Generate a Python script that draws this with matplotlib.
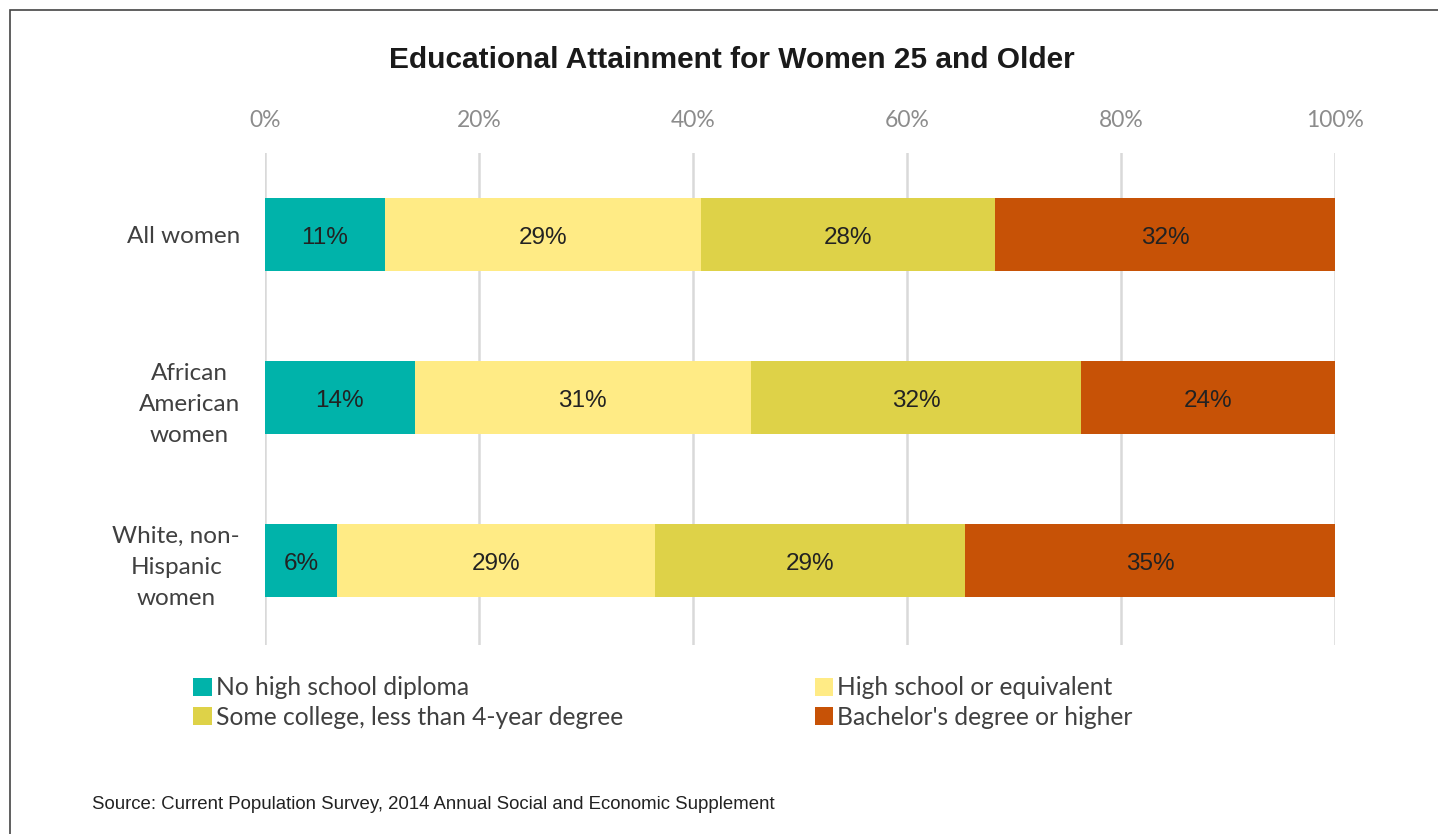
import numpy as np
import matplotlib.pyplot as plt
from matplotlib.patches import Patch, Rectangle

# groups, top to bottom
groups = ["All women", "African\nAmerican\nwomen", "White, non-\nHispanic\nwomen"]
categories = [
    "No high school diploma",
    "High school or equivalent",
    "Some college, less than 4-year degree",
    "Bachelor's degree or higher",
]
# segment widths (%)
no_diploma = [11.2, 14.0, 6.7]
high_school = [29.5, 31.4, 29.7]
some_college = [27.5, 30.9, 29.0]
bachelors = [31.8, 23.7, 34.6]
# printed labels
no_diploma_lbl = ["11%", "14%", "6%"]
high_school_lbl = ["29%", "31%", "29%"]
some_college_lbl = ["28%", "32%", "29%"]
bachelors_lbl = ["32%", "24%", "35%"]
xticks = [0, 20, 40, 60, 80, 100]

colors = ["#00B3AA", "#FFEB85", "#DED248", "#C75206"]
label_font = ["Lato", "DejaVu Sans"]

fig = plt.figure(figsize=(14.38, 8.34), dpi=100)
ax = fig.add_axes([0.1843, 0.2266, 0.7441, 0.5899])

# frame around figure (only top/left visible in reference)
fig.patches.append(Rectangle((10 / 1438, -0.1), 2.0, 1 - 10 / 834 + 0.1,
                             transform=fig.transFigure, fill=False,
                             edgecolor="#444444", linewidth=1.2))

y = np.arange(len(groups))
series = [no_diploma, high_school, some_college, bachelors]
labels = [no_diploma_lbl, high_school_lbl, some_college_lbl, bachelors_lbl]
left = np.zeros(len(groups))
for vals, lbls, col in zip(series, labels, colors):
    vals = np.array(vals)
    ax.barh(y, vals, left=left, height=0.45, color=col, zorder=3)
    for yi, l, v, t in zip(y, left, vals, lbls):
        ax.text(l + v / 2, yi + 0.02, t, ha="center", va="center", fontsize=17.5,
                family="Liberation Sans", color="#222222", zorder=4)
    left += vals

ax.set_xlim(0, 100)
ax.set_ylim(2.52, -0.5)
ax.set_yticks(y)
ax.set_yticklabels(groups, family=label_font, fontsize=17.5, color="#404040",
                   multialignment="center", linespacing=1.6)
ax.tick_params(axis="y", length=0, pad=18)
ax.xaxis.tick_top()
ax.set_xticks(xticks)
ax.set_xticklabels([f"{t}%" for t in xticks], family=label_font,
                   fontsize=16.5, color="#8C8C8C")
ax.tick_params(axis="x", length=0, pad=16)
ax.grid(axis="x", color="#D9D9D9", linewidth=1.8, zorder=0)
for s in ax.spines.values():
    s.set_visible(False)

fig.text(0.509, 0.928, "Educational Attainment for Women 25 and Older",
         ha="center", va="center", fontsize=21.5, fontweight="bold",
         family="Liberation Sans", color="#1a1a1a")

handles = [Patch(facecolor=colors[i], edgecolor="none") for i in (0, 2, 1, 3)]
hlabels = [categories[i] for i in (0, 2, 1, 3)]
fig.legend(handles, hlabels, ncol=2, loc="upper left",
           bbox_to_anchor=(0.134, 0.189), frameon=False,
           prop={"family": label_font, "size": 17.7}, labelcolor="#404040",
           handlelength=0.77, handleheight=0.77, handletextpad=0.16,
           columnspacing=7.8, labelspacing=0.25, borderaxespad=0,
           borderpad=0)

fig.text(0.064, 0.035, "Source: Current Population Survey, 2014 Annual Social and Economic Supplement",
         ha="left", va="center", fontsize=13.4,
         family="Liberation Sans", color="#222222")

fig.savefig("out.png", dpi=100)
